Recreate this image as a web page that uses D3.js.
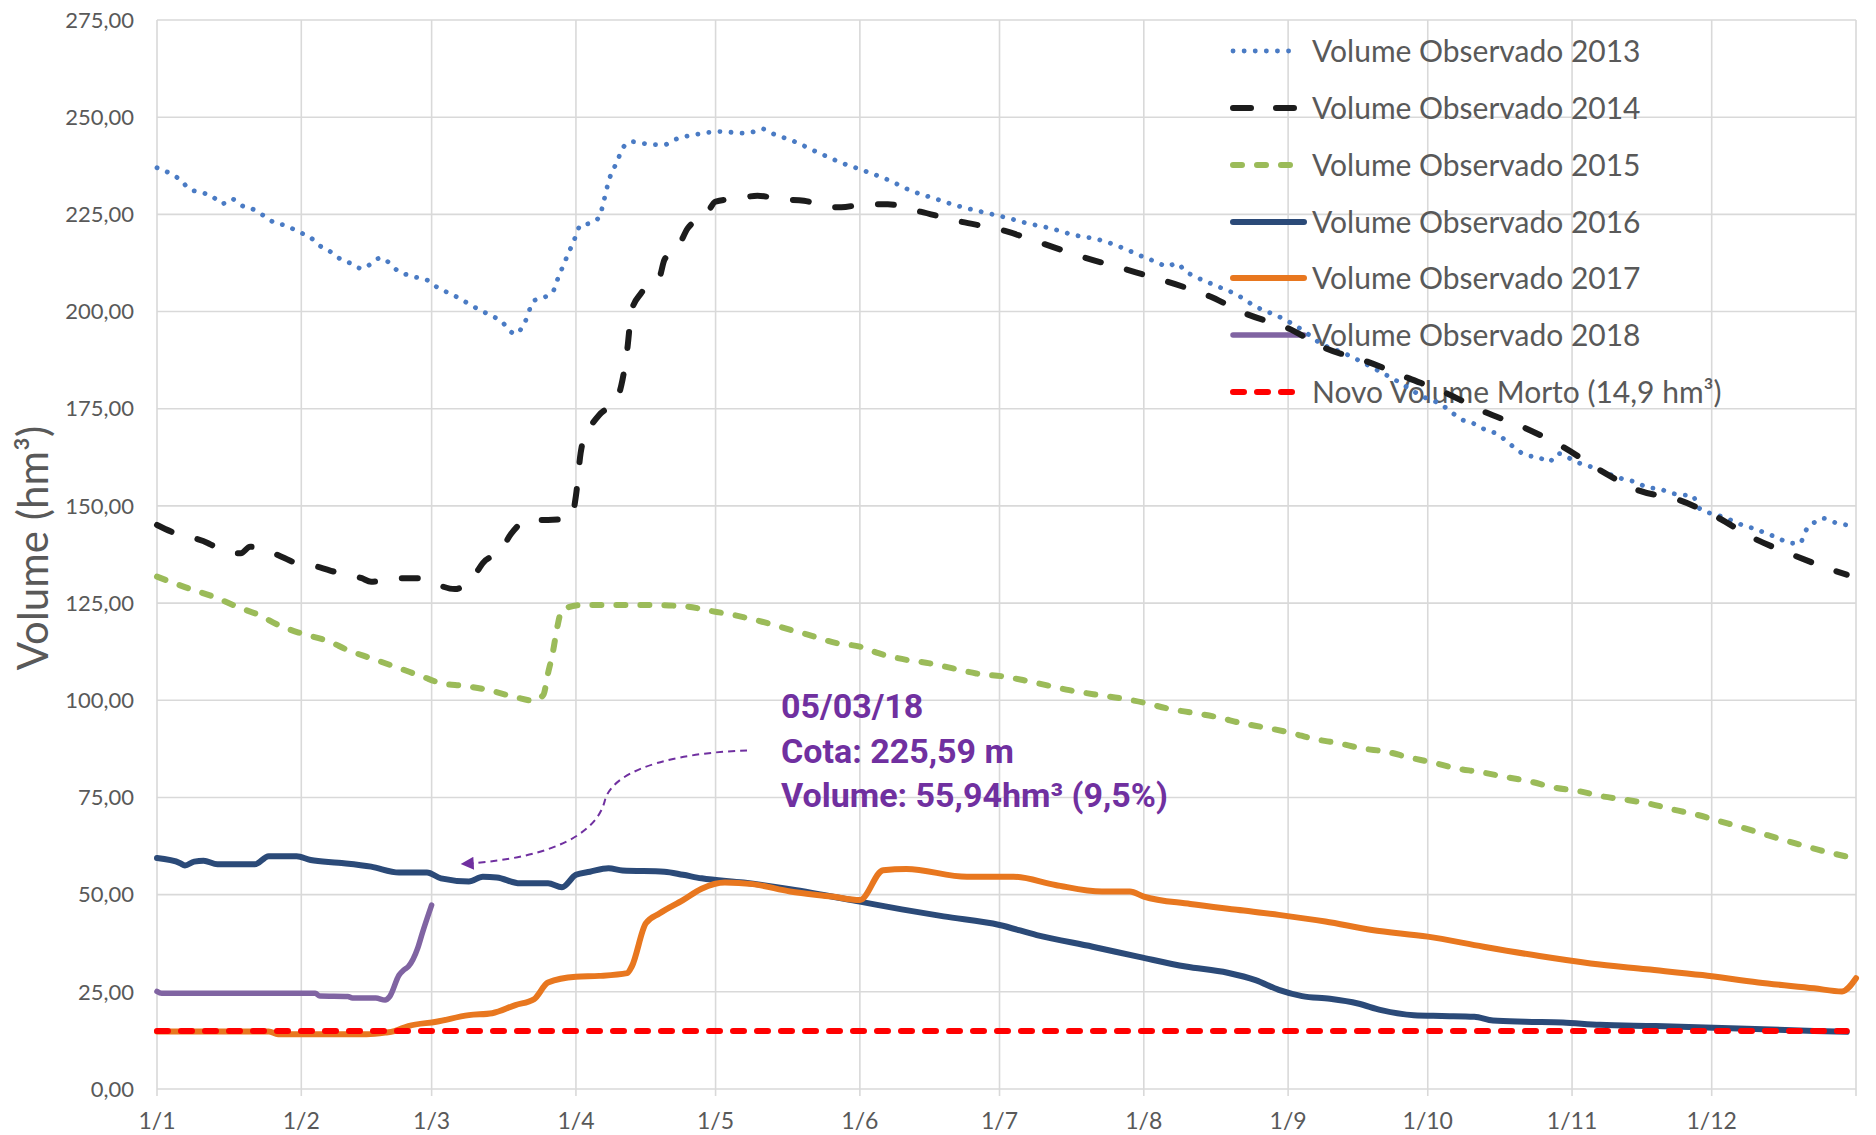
<!DOCTYPE html>
<html><head><meta charset="utf-8">
<script src="https://cdn.jsdelivr.net/npm/d3@7"></script>
<style>body{margin:0;background:#fff} svg{display:block}</style>
</head><body>
<svg id="chart" width="1876" height="1135"></svg>
<script>
// ---------- DATA ----------
const monthTickDays = [0, 31, 59, 90, 120, 151, 181, 212, 243, 273, 304, 334, 365];
const monthTickLabels = ["1/1", "1/2", "1/3", "1/4", "1/5", "1/6", "1/7", "1/8", "1/9", "1/10", "1/11", "1/12", ""];
const yTickValues = [0, 25, 50, 75, 100, 125, 150, 175, 200, 225, 250, 275];
const seriesNames = ["Volume Observado 2013", "Volume Observado 2014", "Volume Observado 2015",
  "Volume Observado 2016", "Volume Observado 2017", "Volume Observado 2018", "Novo Volume Morto (14,9 hm³)"];

const days2013 = [0,3,5,7,10,12,14,16,18,21,23,25,28,30,33,35,37,39,42,44,46,48,52,55,58,60,64,69,74,77,79,81,83,85,86,88,89,90,91,93,95,96,97,99,100,102,106,109,111,116,121,126,128,130,132,137,142,147,152,157,162,167,172,177,182,187,192,197,202,207,212,215,217,219,221,223,228,232,236,241,246,250,255,262,266,272,276,278,280,283,285,288,290,292,294,297,299,301,303,305,308,312,315,318,320,323,325,328,330,331,336,338,341,343,346,348,351,353,354,356,358,360,363];
const vol2013 = [237.0,235.4,233.9,231.5,230.5,229.5,227.7,229.0,227.4,226.1,224.6,223.0,222.0,220.7,219.0,216.9,215.6,213.8,212.2,211.0,212.3,213.8,210.3,209.0,208.1,206.4,204.0,200.6,197.4,194.2,197.2,202.8,203.6,205.0,208.1,213.9,216.7,219.5,222.3,222.7,224.3,228.5,233.4,239.0,242.0,243.7,243.0,242.9,244.1,245.6,246.3,245.9,246.2,247.0,245.9,243.7,240.9,238.3,236.2,233.9,231.1,229.1,227.2,225.7,224.3,222.7,221.4,219.7,218.6,216.6,214.0,212.6,211.6,212.4,210.3,209.0,206.4,204.3,201.3,198.7,195.3,191.8,189.3,185.0,182.4,178.1,176.0,174.2,172.4,171.1,169.8,168.4,166.6,164.6,163.1,162.4,161.3,163.5,162.5,161.3,160.1,158.2,156.9,156.0,154.8,154.3,153.4,152.8,152.6,149.7,147.3,146.4,144.9,144.2,142.8,141.9,140.4,140.4,143.2,145.7,146.8,145.9,145.1];

const days2014 = [0,3,11,12,18,20,27,29,35,38,44,46,52,56,60,64,68,70,74,76,80,84,89,90,91,92,93,95,99,100,101,102,104,108,109,112,114,118,120,125,129,134,139,144,147,152,157,164,172,182,190,199,208,217,226,234,243,251,260,269,277,285,294,302,310,318,327,335,343,351,360,363];
const vol2014 = [145.1,143.4,140.4,139.8,137.8,139.5,136.8,135.7,134.2,133.1,131.4,130.5,131.4,131.4,129.8,128.6,131.8,135.3,138.8,142.7,146.4,146.4,147.0,152.6,163.5,168.7,170.4,173.4,178.1,182.4,190.0,200.4,204.7,209.0,213.3,216.7,221.4,224.9,228.3,229.1,229.8,228.9,228.5,227.0,226.8,227.6,227.6,225.7,223.3,220.8,217.6,214.0,210.9,207.7,204.0,199.4,195.7,190.6,187.1,182.8,179.0,174.3,170.0,165.2,159.2,154.1,151.5,147.2,141.7,137.6,133.5,132.3];

const days2015 = [0,6,12,18,22,26,31,37,41,46,51,57,61,66,71,77,81,83,84,85,86,87,91,98,106,114,118,124,130,135,140,146,151,155,161,166,171,176,182,186,191,196,202,207,212,217,223,228,233,238,244,248,254,259,264,269,274,279,284,290,295,300,306,310,315,321,326,331,336,341,346,352,357,363];
const vol2015 = [131.8,129.1,126.7,123.7,121.9,119.4,117.2,115.1,112.9,110.8,108.7,106.1,104.4,103.7,102.7,100.8,99.9,101.4,106.9,112.1,118.9,123.2,124.5,124.5,124.5,124.1,123.2,121.9,120.2,118.5,116.8,114.7,113.8,112.1,110.4,109.5,108.2,106.9,106.1,105.2,103.9,102.6,101.4,100.5,99.4,97.9,96.7,95.6,94.1,93.0,91.5,90.2,88.9,87.6,86.8,85.3,84.0,82.5,81.6,80.2,79.1,77.6,76.5,75.4,74.5,73.3,71.8,70.5,68.8,67.1,65.3,63.2,61.5,59.8];

const days2016 = [0,5,6,8,10,13,21,24,30,33,39,46,52,58,61,67,70,73,78,84,87,90,93,97,100,109,113,117,126,136,151,160,169,181,189,201,211,221,230,236,241,246,252,258,263,270,276,283,287,294,302,310,322,338,363];
const vol2016 = [59.4,58.1,57.5,58.5,58.7,57.8,57.8,59.9,59.9,58.9,58.2,57.2,55.7,55.7,54.2,53.4,54.6,54.4,52.9,52.9,51.9,55.1,55.9,56.8,56.2,55.9,55.1,54.2,53.1,51.4,48.2,46.2,44.4,42.2,39.6,36.6,34.0,31.5,29.9,28.0,25.5,23.9,23.2,22.0,20.3,19.0,18.8,18.6,17.6,17.3,17.1,16.5,16.2,15.6,14.7];

const days2017 = [0,24,26,45,49,51,54,60,67,72,77,81,84,90,95,101,102,105,108,113,117,122,128,136,145,151,156,161,174,184,193,203,209,212,222,232,241,251,261,273,285,297,308,320,332,344,356,362,365];
const vol2017 = [14.8,14.8,14.1,14.1,14.5,14.9,16.2,17.3,19.0,19.5,21.6,23.1,27.4,28.9,29.1,29.8,31.5,42.6,45.2,48.6,51.5,53.1,52.7,50.8,49.5,48.6,56.3,56.6,54.6,54.6,52.5,50.8,50.8,49.5,47.6,46.1,44.8,43.1,40.9,39.2,36.6,34.2,32.3,30.8,29.3,27.4,25.9,25.1,28.5];

const days2018 = [0,1,34,35,41,42,47,49,50,52,53,54,56,57,59];
const vol2018 = [25.1,24.6,24.6,23.9,23.8,23.4,23.4,22.9,23.8,29.3,30.6,31.5,36.2,40.1,47.3];

const daysDead = [0, 363];
const volDead = [14.9, 14.9];

const annotationLines = ["05/03/18", "Cota: 225,59 m", "Volume: 55,94hm³ (9,5%)"];
const yAxisTitle = "Volume (hm³)";

// ---------- CHART ----------
const svg = d3.select("#chart");
const x = d3.scaleLinear().domain([0, 365]).range([157, 1856]);
const y = d3.scaleLinear().domain([0, 275]).range([1089, 20]);
const ptLocale = d3.formatLocale({decimal: ",", thousands: ".", grouping: [3], currency: ["R$", ""]});
const fmt = ptLocale.format(".2f");

const grid = svg.append("g");
grid.selectAll("line.h").data(yTickValues).join("line")
  .attr("x1", x(0)).attr("x2", x(365)).attr("y1", d => y(d)).attr("y2", d => y(d))
  .attr("stroke", "#d9d9d9").attr("stroke-width", 1.6);
grid.selectAll("line.v").data(monthTickDays).join("line")
  .attr("x1", d => x(d)).attr("x2", d => x(d)).attr("y1", y(275)).attr("y2", y(0) + 7)
  .attr("stroke", "#d9d9d9").attr("stroke-width", 1.6);

// y tick labels
svg.append("g").selectAll("text").data(yTickValues).join("text")
  .attr("x", 134).attr("y", d => y(d)).attr("dy", "0.35em")
  .attr("text-anchor", "end").attr("font-family", "Lato, sans-serif").attr("font-size", 22)
  .attr("fill", "#595959").text(d => fmt(d));
// x tick labels
svg.append("g").selectAll("text").data(monthTickDays).join("text")
  .attr("x", d => x(d)).attr("y", 1129)
  .attr("text-anchor", "middle").attr("font-family", "Lato, sans-serif").attr("font-size", 23)
  .attr("fill", "#595959").text((d, i) => monthTickLabels[i]);

// y title
svg.append("text").attr("transform", "translate(48,548) rotate(-90)")
  .attr("text-anchor", "middle").attr("font-family", "Lato, sans-serif").attr("font-size", 42)
  .attr("fill", "#595959").text(yAxisTitle);

// styles
const styles = [
  {color: "#4a7bc4", width: 4.8, dash: "0.1 11", cap: "round"},
  {color: "#1c1c1c", width: 6, dash: "16 27", cap: "round"},
  {color: "#9bbb59", width: 6, dash: "9 15", cap: "round"},
  {color: "#2b4a78", width: 6, dash: null, cap: "round"},
  {color: "#e8771f", width: 6, dash: null, cap: "round"},
  {color: "#8064a2", width: 5.5, dash: null, cap: "round"},
  {color: "#ff0000", width: 6, dash: "11 13", cap: "round"}
];
const seriesDays = [days2013, days2014, days2015, days2016, days2017, days2018, daysDead];
const seriesVals = [vol2013, vol2014, vol2015, vol2016, vol2017, vol2018, volDead];

// legend (drawn below the lines)
const leg = svg.append("g");
const legRowsY = [51, 108, 165, 222, 278, 335, 392];
seriesNames.forEach((name, i) => {
  const s = styles[i];
  const solid = !s.dash;
  const l = leg.append("line").attr("x1", 1233).attr("x2", solid ? 1304 : 1298)
    .attr("y1", legRowsY[i]).attr("y2", legRowsY[i])
    .attr("stroke", s.color).attr("stroke-width", s.width).attr("stroke-linecap", s.cap);
  if (i === 1) l.attr("stroke-dasharray", "18 25");
  else if (s.dash) l.attr("stroke-dasharray", s.dash);
  leg.append("text").attr("x", 1312).attr("y", legRowsY[i]).attr("dy", "0.35em")
    .attr("font-family", "Lato, sans-serif").attr("font-size", 30).attr("fill", "#595959")
    .text(name);
});

const line = d3.line().x(d => x(d[0])).y(d => y(d[1])).curve(d3.curveMonotoneX);
seriesNames.forEach((name, i) => {
  const s = styles[i];
  const pts = seriesDays[i].map((d, j) => [d, seriesVals[i][j]]);
  const p = svg.append("path").datum(pts).attr("d", line)
    .attr("fill", "none").attr("stroke", s.color).attr("stroke-width", s.width)
    .attr("stroke-linecap", s.cap).attr("stroke-linejoin", "round");
  if (s.dash) p.attr("stroke-dasharray", s.dash);
});

// annotation
const purple = "#7030a0";
svg.append("defs").append("marker").attr("id", "arr").attr("viewBox", "0 0 10 10")
  .attr("refX", 9).attr("refY", 5).attr("markerWidth", 16).attr("markerHeight", 13)
  .attr("markerUnits", "userSpaceOnUse").attr("orient", "auto")
  .append("path").attr("d", "M0,0 L10,5 L0,10 Z").attr("fill", purple);
svg.append("path")
  .attr("d", "M747,750.5 C690,752 615,765 605,800 C598,830 560,858 462,864")
  .attr("fill", "none").attr("stroke", purple).attr("stroke-width", 2)
  .attr("stroke-dasharray", "7 5").attr("marker-end", "url(#arr)");
const ann = svg.append("g");
annotationLines.forEach((t, i) => {
  ann.append("text").attr("x", 781).attr("y", 718 + i * 44.5)
    .attr("font-family", "Roboto, sans-serif").attr("font-weight", "bold").attr("font-size", 34)
    .attr("fill", purple).text(t);
});
</script>
</body></html>
